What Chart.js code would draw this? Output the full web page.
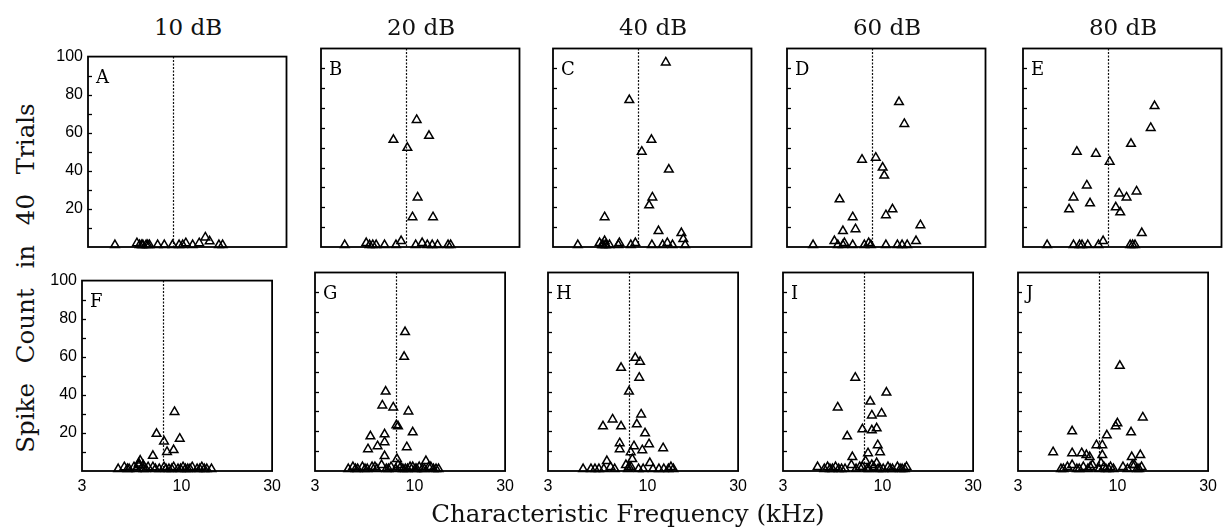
<!DOCTYPE html>
<html>
<head>
<meta charset="utf-8">
<script src="https://cdn.jsdelivr.net/npm/chart.js@4.4.0/dist/chart.umd.min.js"></script>
<style>
  body{margin:0;background:#fff;width:1227px;height:531px;position:relative;overflow:hidden;font-family:'DejaVu Serif',serif;color:#111;}
  canvas{position:absolute;}
  .txt{position:absolute;white-space:nowrap;text-align:center;}
</style>
</head>
<body>
<script>
// levels (top row titles) and panel letters
const levels = ['10 dB','20 dB','40 dB','60 dB','80 dB'];
const letters = ['A','B','C','D','E','F','G','H','I','J'];
const xTicks = [3,10,30];
const yTicks = [20,40,60,80,100];
const dottedCF = 8;

// characteristic frequency (kHz) / spike count per panel
const cfA  = [4.1,5.29,5.46,5.67,5.89,6.12,6.73,7.27,8.0,8.63,9.33,10.1,10.9,11.7,12.3,13.7,14.3,5.6,6.0,9.0];
const spkA = [1,2,1,1,1,1,1,1,1,1,2,1,2,5,3,1,1,1,1,1];

const cfB  = [9.1,10.5,6.95,8.17,9.2,8.67,11.0,3.95,5.07,5.27,5.47,5.69,6.27,7.16,7.6,9.0,9.7,10.3,10.9,11.6,13.1,13.5];
const spkB = [64,56,54,50,25,15,15,1,2,1,1,1,1,1,3,1,2,1,1,1,1,1];

const cfC  = [11.1,7.27,9.4,8.4,11.5,9.5,9.15,5.46,10.2,13.3,4.0,5.15,5.35,5.46,5.56,5.78,6.48,7.4,7.8,9.45,10.7,11.3,12.0,13.9,5.3,5.5,6.4,13.6];
const spkC = [93,74,54,48,39,25,21,15,8,7,1,2,1,3,1,1,2,1,2,1,1,2,1,1,1,1,1,4];

const cfD  = [11.0,11.7,7.16,8.4,9.1,9.27,5.52,10.2,9.45,6.43,6.64,14.1,5.74,4.06,5.2,5.41,5.74,5.84,6.43,7.36,7.74,7.94,9.45,10.8,11.4,12.1,13.4];
const spkD = [73,62,44,45,40,36,24,19,16,15,9,11,8,1,3,1,1,2,1,1,2,1,1,1,1,1,3];

const cfE  = [13.8,13.2,10.5,5.6,6.99,8.2,6.29,5.39,5.12,6.53,9.15,9.97,11.2,8.8,9.27,11.9,3.97,5.39,5.78,6.36,7.2,7.6,10.4,11.0,5.95,10.7];
const spkE = [71,60,52,48,47,43,31,25,19,22,27,25,28,20,17.5,7,1,1,1,1,1,3,1,1,1,1];

const cfF  = [9.2,7.4,9.8,8.1,9.1,8.4,7.08,6.07,5.97,6.3,4.65,5.01,5.31,5.63,5.97,6.33,6.68,7.08,7.65,8.1,8.6,9.1,9.6,10.2,10.8,11.4,12.1,12.8,13.6,14.4,5.2,5.8,6.5,7.3,8.3,8.9,9.9,10.5,11.1,12.5,13.2];
const spkF = [31,19.5,17,15.5,11,10,8,5.5,4,3,1,2,1,2,3,1,2,2,1,2,1,2,1,2,1,2,1,2,1,1,1,1,1,1,1,1,1,1,1,1,1];

const cfG  = [8.93,8.83,7.06,6.78,7.74,9.3,8.04,8.2,9.8,5.87,6.97,6.97,6.4,5.7,9.12,6.97,8.1,11.5,4.49,4.75,5.03,5.33,5.65,5.99,6.34,6.72,7.12,7.54,7.99,8.46,8.96,9.49,10.1,10.6,11.3,11.9,12.6,13.4,4.9,5.5,6.2,7.3,8.2,8.7,9.2,9.8,10.3,11.0,12.2,13.0];
const spkG = [70,57.5,40,33,32,30,23,22.5,19.5,17.5,18.5,14.5,12.5,11,12,7.5,6,5,1,2,1,2,1,2,1,3,1,2,1,2,1,2,1,2,1,2,1,1,1,1,2,1,3,1,1,2,1,1,2,1];

const cfH  = [8.63,9.15,7.27,9.06,8.0,9.27,6.56,8.8,5.84,7.27,9.72,10.2,7.15,7.15,8.5,9.4,12.1,8.17,4.59,5.05,5.3,5.56,5.9,6.12,6.73,7.71,8.0,8.33,8.99,10.3,10.7,12.2,12.9,13.7,6.4,7.9,8.2,9.5,11.5,13.3];
const spkH = [57,55,52,47,40,28.5,26,23.5,22.5,22.5,19,13.5,14,11,12.5,10.5,11.5,9.5,1,1,1,1,1,5,1,3,2,6,1,4,1,1,1,1,2,1,2,1,1,2];

const cfI  = [7.2,10.5,8.63,5.82,9.9,8.8,7.85,8.8,9.33,6.53,9.45,9.72,8.4,6.95,4.56,4.95,5.15,5.46,5.67,5.89,6.36,6.87,7.27,7.85,8.15,8.48,9.0,9.33,9.72,10.7,11.3,12.0,12.7,13.4,5.3,6.1,7.6,8.3,8.8,9.5,10.1,11.0,12.4,13.1];
const spkI = [47,39.5,35,32,29,28,21,20.5,21.5,17.5,13,9.5,9,7,2,1,2,1,2,1,1,3,1,2,5,1,2,4,1,2,1,2,1,2,1,1,2,1,3,1,1,1,1,1];

const cfJ  = [10.3,13.6,10.0,9.79,5.78,11.8,8.8,7.76,8.33,4.59,5.78,6.49,6.87,7.15,13.2,11.9,8.33,5.05,5.46,5.78,6.12,6.62,7.0,7.4,8.02,8.49,9.0,9.54,10.7,11.3,12.0,12.7,13.4,5.2,6.3,7.2,8.2,8.7,9.2,12.3,13.0];
const spkJ = [53,27,24,22.5,20,19.5,18,13,13,9.5,9,9,8,7,8,7,8,1,2,3,1,2,1,3,1,2,1,1,2,1,3,1,2,1,1,2,4,1,2,3,1];

const panels = [[cfA,spkA],[cfB,spkB],[cfC,spkC],[cfD,spkD],[cfE,spkE],
                [cfF,spkF],[cfG,spkG],[cfH,spkH],[cfI,spkI],[cfJ,spkJ]];

// layout
const rowTop = [47, 271];
const colLeft = [[88,321,553,787,1023],[82,315,548,783,1018]];
const PW = 200, PH = 200, ML = 40, MT = 5, MR = 5, MB = 30;

// frame, inward y ticks, dotted CF line, panel letter
const panelDeco = {
  id:'panelDeco',
  beforeDatasetsDraw(chart){
    const {ctx, chartArea:a, scales:{x}} = chart;
    const px = Math.round(x.getPixelForValue(dottedCF)) + 0.5;
    ctx.save();
    ctx.strokeStyle = '#111'; ctx.lineWidth = 1.2; ctx.setLineDash([2,1.5]);
    ctx.beginPath(); ctx.moveTo(px, a.top); ctx.lineTo(px, a.bottom); ctx.stroke();
    ctx.restore();
  },
  afterDatasetsDraw(chart, args, opts){
    const {ctx, chartArea:a, scales:{y}} = chart;
    ctx.save();
    ctx.strokeStyle = '#000'; ctx.lineWidth = 1.8;
    ctx.strokeRect(a.left, a.top, a.right - a.left, a.bottom - a.top);
    ctx.lineWidth = 1.3;
    for (let v = 10; v < 100; v += 10){
      const py = Math.round(y.getPixelForValue(v)) + 0.5;
      ctx.beginPath(); ctx.moveTo(a.left, py); ctx.lineTo(a.left + 4, py); ctx.stroke();
    }
    ctx.fillStyle = '#000';
    ctx.font = '18px "DejaVu Serif"';
    ctx.textBaseline = 'alphabetic';
    ctx.fillText(opts.letter, a.left + 8, a.top + 26);
    ctx.restore();
  }
};

function addText(str, left, top, css){
  const d = document.createElement('div');
  d.className = 'txt'; d.textContent = str;
  d.style.left = left + 'px'; d.style.top = top + 'px';
  Object.assign(d.style, css || {});
  document.body.appendChild(d);
  return d;
}

panels.forEach(([cf, spk], i) => {
  const row = Math.floor(i / 5), col = i % 5;
  const left = colLeft[row][col], top = rowTop[row];
  const cv = document.createElement('canvas');
  cv.width = PW + ML + MR; cv.height = PH + MT + MB;
  cv.style.left = (left - ML) + 'px'; cv.style.top = (top - MT) + 'px';
  document.body.appendChild(cv);

  new Chart(cv.getContext('2d'), {
    type:'scatter',
    data:{ datasets:[{
      data: cf.map((v, k) => ({x:v, y:spk[k]})),
      pointStyle:'triangle', radius:5, hoverRadius:5,
      borderColor:'#000', backgroundColor:'rgba(0,0,0,0)', borderWidth:1.5,
      clip:false
    }]},
    options:{
      responsive:false, animation:false, devicePixelRatio:1,
      layout:{ padding:{left:0, top:MT, right:MR, bottom:0} },
      plugins:{ legend:{display:false}, tooltip:{enabled:false}, panelDeco:{letter:letters[i]} },
      scales:{
        x:{ type:'logarithmic', min:3, max:30,
            afterBuildTicks: s => { s.ticks = xTicks.map(v => ({value:v})); },
            afterFit: s => { s.height = MB; },
            grid:{display:false, drawTicks:false, tickLength:0}, border:{display:false},
            ticks:{ display: row === 1, autoSkip:false, maxRotation:0, padding:6,
                    color:'#000', font:{family:'Liberation Sans', size:16},
                    callback: v => String(v) } },
        y:{ min:0, max:100,
            afterBuildTicks: s => { s.ticks = yTicks.map(v => ({value:v})); },
            afterFit: s => { s.width = ML; },
            grid:{display:false, drawTicks:false, tickLength:0}, border:{display:false},
            ticks:{ display: col === 0, padding:5,
                    color:'#000', font:{family:'Liberation Sans', size:16} } }
      }
    },
    plugins:[panelDeco]
  });

  if (row === 0) addText(levels[col], left, 15, {width:PW+'px', fontSize:'23px', lineHeight:'24px'});
});

addText('Characteristic Frequency (kHz)', 328, 500, {width:'600px', fontSize:'24.5px', lineHeight:'28px'});
addText('Spike Count in 40 Trials', 26 - 200, 278 - 14,
  {width:'400px', fontSize:'24.5px', lineHeight:'28px', wordSpacing:'12px', transform:'rotate(-90deg)'});
</script>
</body>
</html>
